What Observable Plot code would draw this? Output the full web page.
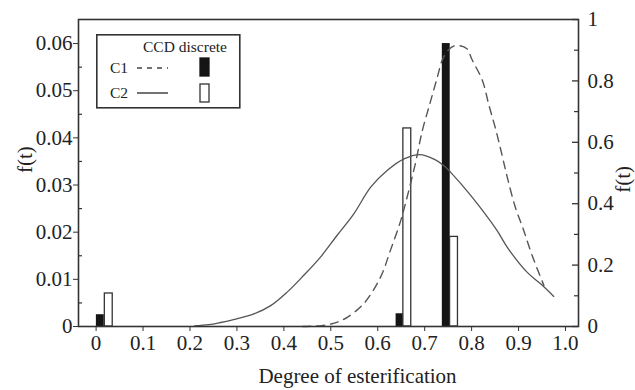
<!DOCTYPE html>
<html><head><meta charset="utf-8">
<script src="https://cdn.jsdelivr.net/npm/d3@7"></script>
<script src="https://cdn.jsdelivr.net/npm/@observablehq/plot@0.6"></script>
<style>
body{margin:0;background:#fff;}
#wrap{position:relative;width:635px;height:390px;font-family:"Liberation Serif","Times New Roman",serif;}
#legend{position:absolute;left:96px;top:34px;}
</style></head><body><div id="wrap"></div>
<script>
// C1 continuous curve (dashed), right axis units 0..1
const c1X = [0.44, 0.48, 0.50, 0.514, 0.535, 0.570, 0.606, 0.627, 0.648, 0.659, 0.68, 0.695, 0.712, 0.727, 0.737, 0.75, 0.766, 0.79, 0.80, 0.823, 0.837, 0.851, 0.865, 0.876, 0.893, 0.911, 0.929, 0.954];
const c1Y = [0.0, 0.003, 0.008, 0.014, 0.030, 0.074, 0.161, 0.248, 0.340, 0.40, 0.53, 0.638, 0.731, 0.812, 0.866, 0.90, 0.915, 0.905, 0.872, 0.801, 0.72, 0.644, 0.557, 0.486, 0.389, 0.313, 0.231, 0.134];
// C2 continuous curve (solid), right axis units 0..1
const c2X = [0.21, 0.24, 0.265, 0.30, 0.336, 0.372, 0.407, 0.442, 0.478, 0.514, 0.549, 0.585, 0.620, 0.656, 0.69, 0.72, 0.741, 0.755, 0.798, 0.854, 0.876, 0.918, 0.947, 0.975];
const c2Y = [0.002, 0.006, 0.013, 0.025, 0.041, 0.068, 0.112, 0.166, 0.226, 0.298, 0.367, 0.454, 0.508, 0.546, 0.560, 0.545, 0.524, 0.503, 0.427, 0.313, 0.258, 0.177, 0.139, 0.098];
// CCD discrete bars, left axis units
const c1BarX = [0.009, 0.6475, 0.746];
const c1BarY = [0.0025, 0.0027, 0.060];
const c2BarX = [0.027, 0.663, 0.7625];
const c2BarY = [0.007, 0.042, 0.019];
// axes
const xTicks = [0, 0.1, 0.2, 0.3, 0.4, 0.5, 0.6, 0.7, 0.8, 0.9, 1.0];
const xTickLabels = ["0", "0.1", "0.2", "0.3", "0.4", "0.5", "0.6", "0.7", "0.8", "0.9", "1.0"];
const leftTicks = [0, 0.01, 0.02, 0.03, 0.04, 0.05, 0.06];
const leftTickLabels = ["0", "0.01", "0.02", "0.03", "0.04", "0.05", "0.06"];
const rightTicks = [0, 0.2, 0.4, 0.6, 0.8, 1];
const rightTickLabels = ["0", "0.2", "0.4", "0.6", "0.8", "1"];
const xLabel = "Degree of esterification";
const yLabel = "f(t)";
const legendTitle = "CCD discrete";
const seriesNames = ["C1", "C2"];

const YMAX = 0.0651;            // left axis top; right axis 0..1 spans the same height
const R = v => v * YMAX;        // right-axis value -> left-axis scale
const BW = 0.0168;              // bar width in x units
const ink = "#333";
const FS = 21;

const c1 = c1X.map((x, i) => ({x, y: R(c1Y[i])}));
const c2 = c2X.map((x, i) => ({x, y: R(c2Y[i])}));
const bars1 = c1BarX.map((x, i) => ({x, y: c1BarY[i]}));
const bars2 = c2BarX.map((x, i) => ({x, y: c2BarY[i]}));
const leftMinor = d3.range(0.005, 0.065, 0.01);
const rightMinor = [0.1, 0.3, 0.5, 0.7, 0.9].map(R);

const chart = Plot.plot({
  width: 635, height: 390,
  marginLeft: 78, marginRight: 57, marginTop: 19, marginBottom: 64,
  style: {fontFamily: '"Liberation Serif","Times New Roman",serif', fontSize: FS + "px", color: "#222", background: "#fff"},
  x: {domain: [-0.0375, 1.0277]},
  y: {domain: [0, YMAX]},
  marks: [
    Plot.rectY(bars1, {x1: d => d.x - BW/2, x2: d => d.x + BW/2, y: "y", fill: "#151515"}),
    Plot.rectY(bars2, {x1: d => d.x - BW/2, x2: d => d.x + BW/2, y: "y", fill: "white", stroke: ink, strokeWidth: 1.3}),
    Plot.line(c2, {x: "x", y: "y", stroke: "#555", strokeWidth: 1.3, curve: "catmull-rom"}),
    Plot.line(c1, {x: "x", y: "y", stroke: "#555", strokeWidth: 1.4, strokeDasharray: "8,6", curve: "catmull-rom"}),
    Plot.frame({stroke: ink, strokeWidth: 1.6}),
    Plot.axisX({ticks: xTicks, tickSize: 5, tickPadding: 4, stroke: ink, fontSize: FS, tickFormat: d => xTickLabels[xTicks.indexOf(d)] ?? "", label: null}),
    Plot.axisY({ticks: leftTicks, tickSize: 5, tickPadding: 1, stroke: ink, fontSize: FS, tickFormat: d => leftTickLabels[leftTicks.indexOf(d)] ?? "", label: null}),
    Plot.tickY(leftMinor, {y: d => d, insetRight: 496, stroke: ink, strokeWidth: 1.2}),
    Plot.tickY(rightTicks.map(R), {y: d => d, insetLeft: 494, stroke: ink, strokeWidth: 1.3}),
    Plot.tickY(rightMinor, {y: d => d, insetLeft: 496, stroke: ink, strokeWidth: 1.2}),
    Plot.axisY(rightTicks.map(R), {anchor: "right", tickSize: 0, tickPadding: 9, fontSize: FS, tickFormat: (d, i) => rightTickLabels[i], label: null}),
    Plot.text([xLabel], {text: d => d, frameAnchor: "bottom", dx: 29, dy: 56, fontSize: FS}),
    Plot.text([yLabel], {text: d => d, frameAnchor: "left", dx: -53, dy: 0, rotate: -90, fontSize: FS}),
    Plot.text([yLabel], {text: d => d, frameAnchor: "right", dx: 45, dy: -7, rotate: -90, fontSize: FS})
  ]
});

const wrap = document.getElementById("wrap");
wrap.appendChild(chart);

// legend box
const lg = d3.select(wrap).append("svg").attr("id", "legend").attr("width", 146).attr("height", 76)
  .style("font-family", '"Liberation Serif","Times New Roman",serif');
lg.append("rect").attr("x", 0.8).attr("y", 0.8).attr("width", 143).attr("height", 73).attr("fill", "white").attr("stroke", ink).attr("stroke-width", 1.6);
lg.append("text").attr("x", 47).attr("y", 18).attr("font-size", 15.5).attr("fill", "#222").text(legendTitle);
seriesNames.forEach((name, i) => {
  const cy = 34 + i * 25;
  lg.append("text").attr("x", 14).attr("y", cy + 5).attr("font-size", 15.5).attr("fill", "#222").text(name);
  lg.append("line").attr("x1", 41).attr("x2", 72).attr("y1", cy).attr("y2", cy).attr("stroke", "#444").attr("stroke-width", 1.5)
    .attr("stroke-dasharray", i === 0 ? "5,5" : null);
  lg.append("rect").attr("x", 104).attr("y", cy - 10 + (i === 1 ? 1 : 0)).attr("width", 9).attr("height", 18)
    .attr("fill", i === 0 ? "#151515" : "white").attr("stroke", i === 0 ? "#151515" : ink).attr("stroke-width", 1.3);
});
</script>
</body></html>
